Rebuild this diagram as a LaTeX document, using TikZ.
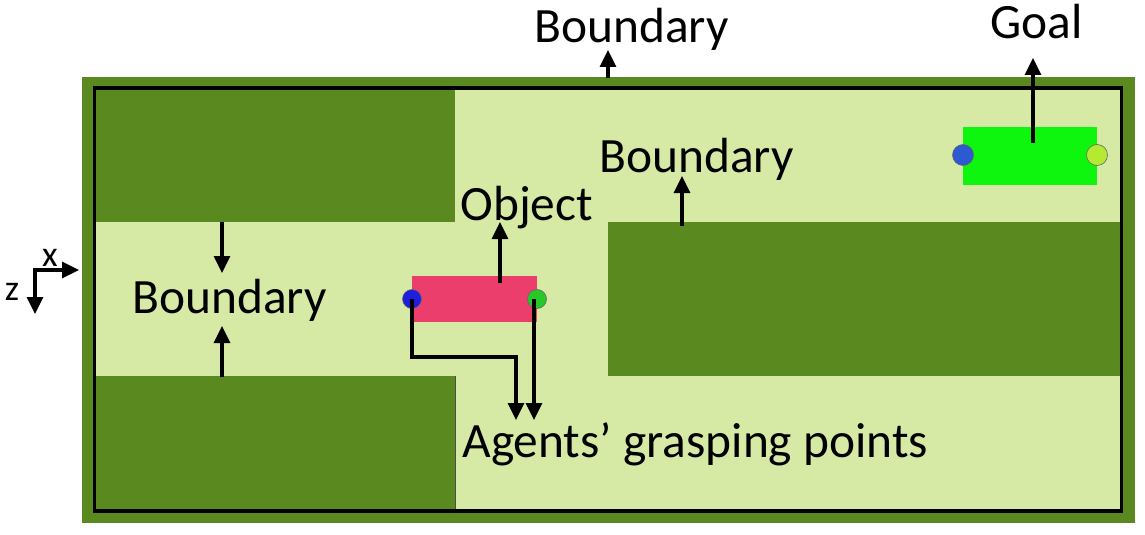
\documentclass[tikz,border=0pt]{standalone}
\usepackage{fontspec}
\setmainfont{Carlito}
\usetikzlibrary{arrows.meta}
\definecolor{dkgreen}{RGB}{90,137,32}
\definecolor{ltgreen}{RGB}{214,234,166}
\definecolor{objpink}{RGB}{236,62,108}
\definecolor{goalgreen}{RGB}{14,245,14}
\definecolor{dotblue}{RGB}{30,30,220}
\definecolor{goalblue}{RGB}{45,90,210}
\definecolor{dotgreen}{RGB}{40,200,40}
\definecolor{dotyellow}{RGB}{180,235,50}
\tikzset{
  lbl/.style={anchor=base west, inner sep=0pt, font=\fontsize{24.7}{28}\selectfont},
  axlbl/.style={anchor=base, inner sep=0pt, font=\fontsize{18}{20}\selectfont},
  arr/.style={line width=1.6pt, -{Triangle[length=8.5pt,width=8pt]}},
  wall/.style={fill=dkgreen},
  dot/.style={circle, inner sep=0pt, minimum size=9.5pt, draw=black!60, line width=0.3pt},
}
\begin{document}
\begin{tikzpicture}[x=0.5pt,y=-0.5pt]
\useasboundingbox[fill=white] (0,0) rectangle (1145,535);
% arena
\fill[dkgreen] (82,77) rectangle (1135,523);
\fill[ltgreen] (94.5,88) rectangle (1121.5,511);
\fill[wall] (96,89) rectangle (455,222);
\fill[wall] (96,376) rectangle (455,510);
\draw[black!70, line width=0.5pt] (455,376) -- (455,510);
\fill[wall] (608,222) rectangle (1120,376);
\draw[line width=1.6pt] (94.5,88) rectangle (1121.5,511);
% goal
\fill[goalgreen] (963,127) rectangle (1097,185);
\node[dot, fill=goalblue, minimum size=10.5pt] (gb) at (963,155) {};
\node[dot, fill=dotyellow, minimum size=10.5pt] (gy) at (1097,155) {};
% object
\fill[objpink] (412,276) rectangle (537,322);
\node[dot, fill=dotblue] (ob) at (412,299) {};
\node[dot, fill=dotgreen] (og) at (537,299) {};
% labels
\node[lbl] (btop) at (534,43) {Boundary};
\node[lbl] (goal) at (990,39) {Goal};
\node[lbl] (bmid) at (599,172) {Boundary};
\node[lbl] (obj) at (460,220) {Object};
\node[lbl] (bleft) at (132,313) {Boundary};
\node[lbl] (agents) at (462,457) {Agents’ grasping points};
% arrow coordinates
\coordinate (ta) at (608,78);   \coordinate (tb) at (608,50);
\coordinate (ga) at (1033,143); \coordinate (gt) at (1033,58);
\coordinate (ma) at (682,226);  \coordinate (mb) at (682,176);
\coordinate (oa) at (500,283);  \coordinate (ot) at (500,222);
\coordinate (la) at (222,222);  \coordinate (lb) at (222,273);
\coordinate (lc) at (222,377);  \coordinate (ld) at (222,326);
\coordinate (k1) at (412,357);  \coordinate (k2) at (516,357);
\coordinate (k3) at (516,420);  \coordinate (k4) at (534,420);
\coordinate (gs) at (534,299);
\draw[arr] (ta) -- (tb);
\draw[arr] (ga) -- (gt);
\draw[arr] (ma) -- (mb);
\draw[arr] (oa) -- (ot);
\draw[arr] (la) -- (lb);
\draw[arr] (lc) -- (ld);
\draw[arr] (ob.center) -- (k1) -- (k2) -- (k3);
\draw[arr] (gs) -- (k4);
% axes
\coordinate (ax) at (35,270);
\coordinate (axx) at (79,270);
\coordinate (axz) at (35,314);
\draw[arr, line cap=rect] (ax) -- (axx);
\draw[arr] (ax) -- (axz);
\node[axlbl] (xl) at (50,266) {x};
\node[axlbl] (zl) at (12,300) {z};
\end{tikzpicture}
\end{document}
